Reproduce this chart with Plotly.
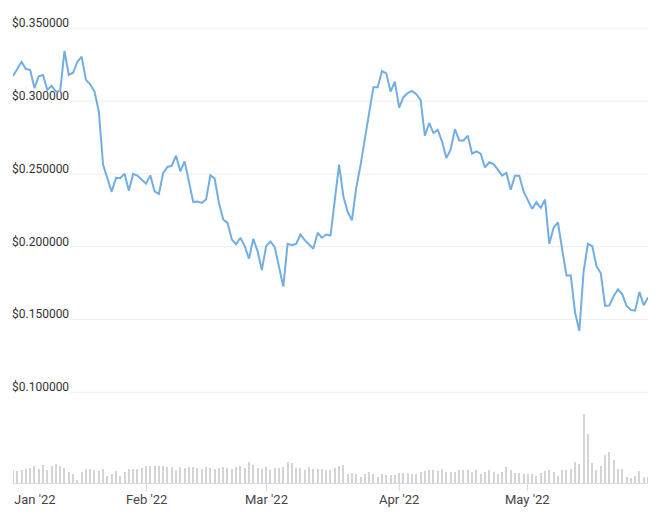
import pandas as pd
import plotly.graph_objects as go

# ---- data ----
start_date = "2022-01-01"
end_date = "2022-05-29"
dates = pd.date_range(start_date, end_date, freq="D")

price = [
    0.3173, 0.3220, 0.3270, 0.3220, 0.3215, 0.3090, 0.3170, 0.3180, 0.3077, 0.3105,
    0.3066, 0.3070, 0.3345, 0.3180, 0.3195, 0.3270, 0.3305, 0.3146, 0.3116, 0.3066,
    0.2930, 0.2563, 0.2470, 0.2377, 0.2473, 0.2470, 0.2502, 0.2385, 0.2500, 0.2488,
    0.2460, 0.2433, 0.2490, 0.2380, 0.2363, 0.2506, 0.2548, 0.2557, 0.2625, 0.2518,
    0.2586, 0.2449, 0.2308, 0.2310, 0.2301, 0.2324, 0.2490, 0.2468, 0.2300, 0.2187,
    0.2164, 0.2050, 0.2016, 0.2062, 0.2004, 0.1918, 0.2055, 0.1970, 0.1840, 0.2004,
    0.2036, 0.1997, 0.1867, 0.1726, 0.2020, 0.2011, 0.2020, 0.2084, 0.2045, 0.2016,
    0.1986, 0.2096, 0.2062, 0.2084, 0.2077, 0.2320, 0.2564, 0.2347, 0.2240, 0.2182,
    0.2404, 0.2560, 0.2730, 0.2910, 0.3096, 0.3096, 0.3207, 0.3191, 0.3066, 0.3134,
    0.2956, 0.3027, 0.3055, 0.3070, 0.3048, 0.3009, 0.2762, 0.2850, 0.2781, 0.2803,
    0.2723, 0.2609, 0.2667, 0.2808, 0.2730, 0.2730, 0.2762, 0.2639, 0.2655, 0.2639,
    0.2545, 0.2580, 0.2568, 0.2530, 0.2488, 0.2507, 0.2392, 0.2488, 0.2488, 0.2380,
    0.2324, 0.2260, 0.2305, 0.2267, 0.2324, 0.2020, 0.2130, 0.2168, 0.1981, 0.1803,
    0.1803, 0.1548, 0.1422, 0.1833, 0.2020, 0.2004, 0.1867, 0.1817, 0.1593, 0.1597,
    0.1661, 0.1707, 0.1673, 0.1593, 0.1566, 0.1561, 0.1690, 0.1598, 0.1651,
]

volume_musd = [
    39, 36, 39, 42, 45, 51, 42, 54, 39, 51, 57, 51, 45, 33, 27, 9, 33, 42, 42, 39,
    36, 42, 21, 27, 36, 21, 33, 42, 42, 42, 45, 51, 51, 51, 51, 51, 48,
    48, 39, 48, 45, 48, 48, 45, 42, 48, 45, 42, 45, 48, 45, 42, 48, 51, 45, 63, 54,
    45, 42, 48, 39, 45, 45, 48, 63, 60, 45, 45, 39, 48, 42, 42, 42, 39, 39,
    45, 51, 54, 27, 30, 27, 18, 27, 33, 27, 18, 27, 24, 24, 24, 30, 30, 30, 27, 27,
    33, 36, 39, 39, 36, 42, 33, 33, 33, 39, 39, 39, 33, 39, 27, 33, 39,
    33, 27, 33, 48, 39, 30, 30, 27, 27, 27, 21, 30, 36, 39, 33, 21, 39, 39, 42, 63,
    57, 207, 147, 60, 39, 51, 84, 93, 69, 42, 42, 18, 15, 21, 36, 18, 18,
]

y_tickvals = [0.10, 0.15, 0.20, 0.25, 0.30, 0.35]
y_ticktext = ["$0.100000", "$0.150000", "$0.200000", "$0.250000", "$0.300000", "$0.350000"]

x_tickvals = ["2022-01-01", "2022-02-01", "2022-03-01", "2022-04-01", "2022-05-01"]
x_ticktext = ["Jan '22", "Feb '22", "Mar '22", "Apr '22", "May '22"]

# ---- styles ----
LINE_COLOR = "#72aee4"
BAR_COLOR = "#d4d4d4"
GRID_COLOR = "#eeeeee"
AXIS_COLOR = "#d6dbe4"
FONT = "Roboto, 'Open Sans', sans-serif"

fig = go.Figure()

fig.add_trace(go.Bar(
    x=dates, y=volume_musd, yaxis="y2",
    width=0.25 * 86400000,
    marker=dict(color=BAR_COLOR, line=dict(width=0)),
    hoverinfo="skip", showlegend=False,
))

fig.add_trace(go.Scatter(
    x=dates, y=price, mode="lines",
    line=dict(color=LINE_COLOR, width=2),
    showlegend=False,
))

# gridlines (start right of the inside labels)
for v in y_tickvals:
    fig.add_shape(type="line", xref="paper", x0=0.09, x1=1.0,
                  yref="y", y0=v, y1=v,
                  line=dict(color=GRID_COLOR, width=1), layer="below")

# x labels
for i, (tv, tt) in enumerate(zip(x_tickvals, x_ticktext)):
    fig.add_annotation(
        x=tv, xref="x", y=0, yref="paper",
        text=tt, showarrow=False,
        xanchor="left" if i == 0 else "center",
        xshift=-1 if i == 0 else 0,
        yanchor="top", yshift=-7,
        font=dict(family=FONT, size=13, color="#444444"),
    )

fig.update_layout(
    width=660, height=515,
    margin=dict(l=13, r=12, t=10, b=32),
    paper_bgcolor="white", plot_bgcolor="white",
    bargap=0,
    font=dict(family=FONT),
    xaxis=dict(
        type="date",
        range=[start_date, end_date],
        tickvals=x_tickvals, ticktext=x_ticktext,
        showticklabels=False,
        ticks="outside", ticklen=7, tickcolor=AXIS_COLOR, tickwidth=1,
        showline=True, linecolor=AXIS_COLOR, linewidth=1,
        showgrid=False, zeroline=False,
    ),
    yaxis=dict(
        range=[0.0377, 0.3626],
        tickvals=y_tickvals, ticktext=y_ticktext,
        ticklabelposition="inside top",
        ticklabelstandoff=-4,
        ticklabelshift=3,
        tickfont=dict(family=FONT, size=12, color="#333333"),
        showgrid=False, zeroline=False, showline=False,
        layer="below traces",
    ),
    yaxis2=dict(
        overlaying="y", range=[0, 1419],
        showticklabels=False, showgrid=False, zeroline=False, showline=False,
    ),
)

fig.write_html("out.html", config={"displayModeBar": False},
               post_script="document.body.style.margin='0';")
